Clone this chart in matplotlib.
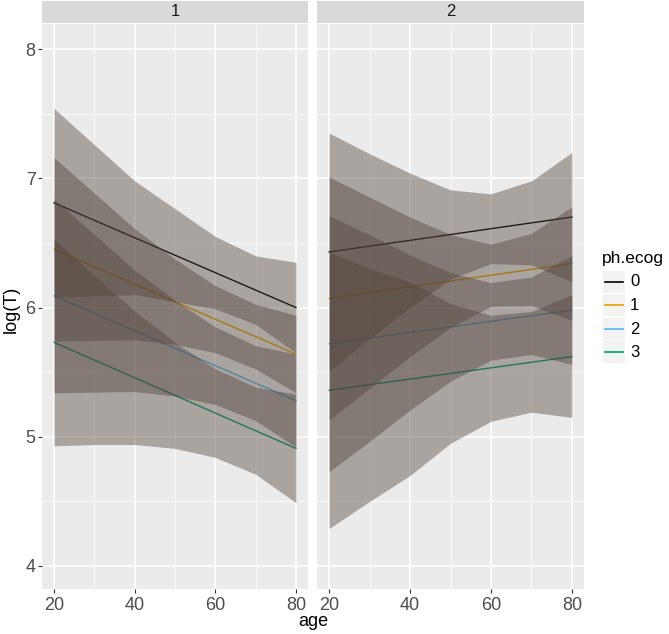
import numpy as np
import matplotlib.pyplot as plt
from matplotlib.patches import Rectangle

plt.rcParams['font.family'] = ['Liberation Sans', 'DejaVu Sans']

ages = [20, 30, 40, 50, 60, 70, 80]
age_ends = [20, 80]
groups = ['0', '1', '2', '3']
group_colors = ['#000000', '#E69F00', '#56B4E9', '#009E73']
panels = ['1', '2']

# panel "1": fitted log(T) at age 20 and 80 for ph.ecog 0..3
fit_p1 = [[6.81, 6.00], [6.45, 5.64], [6.09, 5.28], [5.73, 4.91]]
upper_p1 = [[7.54, 7.26, 6.98, 6.765, 6.55, 6.40, 6.35],
            [7.16, 6.885, 6.61, 6.375, 6.17, 6.025, 5.94],
            [6.84, 6.565, 6.29, 6.055, 5.85, 5.705, 5.64],
            [6.53, 6.246, 5.974, 5.73, 5.526, 5.384, 5.33]]
lower_p1 = [[6.08, 6.09, 6.10, 6.045, 5.99, 5.87, 5.65],
            [5.74, 5.745, 5.75, 5.715, 5.65, 5.525, 5.34],
            [5.34, 5.345, 5.35, 5.315, 5.25, 5.125, 4.92],
            [4.93, 4.94, 4.94, 4.91, 4.84, 4.71, 4.49]]

# panel "2"
fit_p2 = [[6.43, 6.70], [6.07, 6.34], [5.72, 5.98], [5.36, 5.62]]
upper_p2 = [[7.35, 7.19, 7.04, 6.91, 6.88, 6.98, 7.20],
            [7.01, 6.855, 6.70, 6.565, 6.49, 6.575, 6.78],
            [6.71, 6.563, 6.407, 6.27, 6.193, 6.237, 6.40],
            [6.43, 6.30, 6.20, 6.03, 5.94, 5.97, 6.10]]
lower_p2 = [[5.51, 5.76, 6.00, 6.22, 6.34, 6.33, 6.20],
            [5.13, 5.375, 5.62, 5.845, 6.01, 6.015, 5.90],
            [4.73, 4.963, 5.207, 5.43, 5.593, 5.637, 5.56],
            [4.29, 4.50, 4.70, 4.95, 5.12, 5.19, 5.15]]

fits = [fit_p1, fit_p2]
uppers = [upper_p1, upper_p2]
lowers = [lower_p1, lower_p2]

W, H = 669, 634
fig = plt.figure(figsize=(W / 100, H / 100), dpi=100)

def box(x0, y0, x1, y1):
    # pixel box (top-left origin) -> figure fraction
    return [x0 / W, 1 - y1 / H, (x1 - x0) / W, (y1 - y0) / H]

panel_px = [(42, 308), (317, 584)]
for k in range(2):
    x0, x1 = panel_px[k]
    ax = fig.add_axes(box(x0, 24, x1, 589))
    ax.set_facecolor('#EBEBEB')
    for s in ax.spines.values():
        s.set_visible(False)
    ax.set_xlim(17, 83)
    ax.set_ylim(3.822, 8.194)
    ax.set_xticks([20, 40, 60, 80])
    ax.set_xticks([30, 50, 70], minor=True)
    ax.set_yticks([4, 5, 6, 7, 8])
    ax.set_yticks([4.5, 5.5, 6.5, 7.5], minor=True)
    ax.grid(which='major', color='white', lw=1.1)
    ax.grid(which='minor', color='white', lw=0.5)
    ax.set_axisbelow(True)
    ax.tick_params(which='minor', length=0)
    ax.tick_params(which='major', length=3, width=0.8, color='#333333',
                   labelcolor='#4D4D4D', labelsize=13, pad=1.5)
    ax.tick_params(axis='x', pad=3)
    if k == 1:
        ax.tick_params(axis='y', labelleft=False, length=0)

    # lines sit under the bands, as in the original
    for g in range(4):
        ax.plot(age_ends, fits[k][g], color=group_colors[g], lw=1.0, zorder=2)
    for g in range(4):
        ax.fill_between(ages, lowers[k][g], uppers[k][g], color='#50423A',
                        alpha=0.42, lw=0, zorder=3)

    sx = fig.add_axes(box(x0, 1, x1, 23))
    sx.set_facecolor('#D9D9D9')
    sx.set_xticks([])
    sx.set_yticks([])
    for s in sx.spines.values():
        s.set_visible(False)
    sx.text(0.5, 0.5, panels[k], ha='center', va='center', fontsize=12,
            color='#1A1A1A', transform=sx.transAxes)

fig.text(313 / W, 1 - 621 / H, 'age', ha='center', va='center', fontsize=13)
fig.text(11 / W, 1 - 309 / H, 'log(T)', ha='center', va='center',
         fontsize=13, rotation=90)

# legend
fig.text(602 / W, 1 - 258 / H, 'ph.ecog', ha='left', va='center', fontsize=12.5)
lx = fig.add_axes(box(603, 270, 625, 364))
lx.set_xlim(0, 1)
lx.set_ylim(4, 0)
lx.axis('off')
for g in range(4):
    lx.add_patch(Rectangle((0, g + 0.03), 1, 0.94, color='#F2F2F2', lw=0))
    lx.plot([0.08, 0.92], [g + 0.5, g + 0.5], color=group_colors[g], lw=1.2)
    fig.text(630 / W, 1 - (282 + g * 23.5) / H, groups[g], ha='left',
             va='center', fontsize=12)

fig.savefig('out.png', dpi=100)
